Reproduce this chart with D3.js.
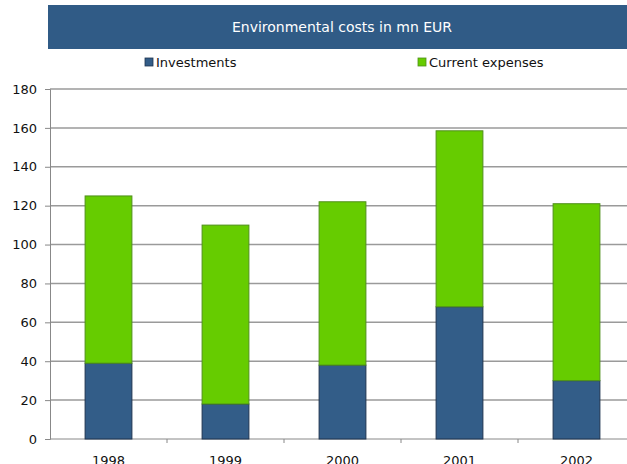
<!DOCTYPE html>
<html>
<head>
<meta charset="utf-8">
<script src="https://cdn.jsdelivr.net/npm/d3@7"></script>
<style>
  html, body { margin: 0; padding: 0; background: #fff; }
  svg { display: block; font-family: "DejaVu Sans", Verdana, sans-serif; }
</style>
</head>
<body>
<svg id="chart" width="627" height="464"></svg>
<script>
// Environmental costs, mn EUR
const years = ["1998", "1999", "2000", "2001", "2002"];
const investments = [39, 18, 38, 68, 30];
const currentExpenses = [86, 92, 84, 90.5, 91];
const seriesNames = ["Investments", "Current expenses"];
const yTicks = [0, 20, 40, 60, 80, 100, 120, 140, 160, 180];
const chartTitle = "Environmental costs in mn EUR";

const colors = { "Investments": "#335d88", "Current expenses": "#66cc00" };
const strokes = { "Investments": "#1f3550", "Current expenses": "#4f8f1a" };

const svg = d3.select("#chart");
const W = 627, H = 464;
const margin = { left: 50, top: 89, bottom: 25 };

const rows = years.map((y, i) => ({
  year: y,
  "Investments": investments[i],
  "Current expenses": currentExpenses[i]
}));
const stacked = d3.stack().keys(seriesNames)(rows);

const x = d3.scaleBand().domain(years).range([margin.left, margin.left + 117 * years.length]).paddingInner(0.6).paddingOuter(0.3);
const y = d3.scaleLinear().domain([0, 180]).range([H - margin.bottom, margin.top]);

// Title banner
svg.append("rect").attr("x", 48).attr("y", 5).attr("width", W - 48).attr("height", 44).attr("fill", "#305b86");
svg.append("text").attr("x", 342).attr("y", 32).attr("text-anchor", "middle")
  .attr("fill", "#ffffff").attr("font-size", 14).text(chartTitle);

// Legend
const legendX = [145, 418];
seriesNames.forEach((name, i) => {
  const g = svg.append("g").attr("transform", `translate(${legendX[i]},58)`);
  g.append("rect").attr("width", 8).attr("height", 8).attr("fill", colors[name]).attr("stroke", strokes[name]).attr("stroke-width", 0.8);
  g.append("text").attr("x", 11).attr("y", 8.5).attr("font-size", 13).attr("fill", "#111").text(name);
});

// Gridlines
svg.append("g").selectAll("line").data(yTicks.filter(d => d > 0)).join("line")
  .attr("x1", margin.left).attr("x2", W)
  .attr("y1", d => y(d)).attr("y2", d => y(d))
  .attr("stroke", "#9a9a9a").attr("stroke-width", 1.5);

// Y axis
const yAxis = svg.append("g").attr("transform", `translate(${margin.left},0)`)
  .call(d3.axisLeft(y).tickValues(yTicks).tickSize(5).tickPadding(8));
yAxis.select(".domain").attr("stroke", "#888");
yAxis.selectAll(".tick line").attr("stroke", "#888");
yAxis.selectAll("text").attr("font-size", 13).attr("fill", "#111").attr("font-family", "DejaVu Sans, sans-serif");

// X axis
const xAxis = svg.append("g").attr("transform", `translate(0,${y(0)})`)
  .call(d3.axisBottom(x).tickSize(0).tickPadding(17));
xAxis.select(".domain").attr("stroke", "#888").attr("d", `M${margin.left},0H${W}`);
xAxis.selectAll("text").attr("font-size", 13).attr("fill", "#111").attr("font-family", "DejaVu Sans, sans-serif");
// category separators
const step = x.step();
svg.append("g").selectAll("line").data(d3.range(1, years.length)).join("line")
  .attr("x1", i => margin.left + step * i).attr("x2", i => margin.left + step * i)
  .attr("y1", y(0)).attr("y2", y(0) + 4).attr("stroke", "#888");

// Bars
svg.append("g").selectAll("g").data(stacked).join("g")
  .attr("fill", d => colors[d.key]).attr("stroke", d => strokes[d.key])
  .selectAll("rect").data(d => d).join("rect")
  .attr("x", d => x(d.data.year))
  .attr("width", x.bandwidth())
  .attr("y", d => y(d[1]))
  .attr("height", d => y(d[0]) - y(d[1]))
  .attr("stroke-width", 1);
</script>
</body>
</html>
